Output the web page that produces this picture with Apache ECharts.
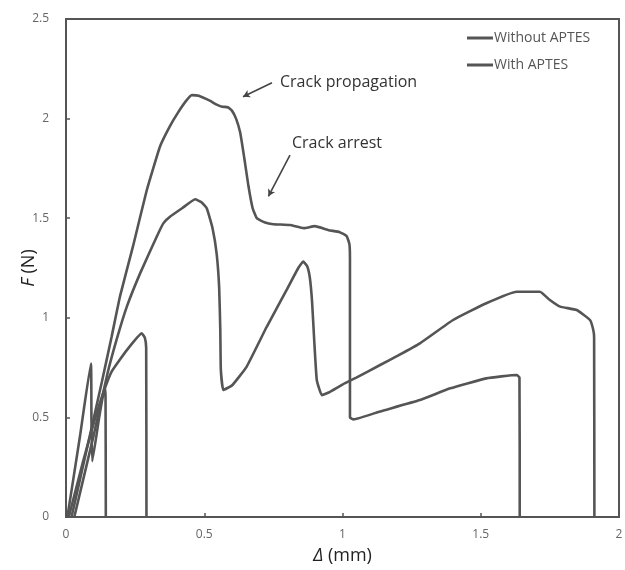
<!DOCTYPE html>
<html>
<head>
<meta charset="utf-8">
<script src="https://cdn.jsdelivr.net/npm/echarts@6/dist/echarts.min.js"></script>
<style>
  html, body { margin: 0; padding: 0; background: #fff; }
  #main { width: 625px; height: 570px; }
</style>
</head>
<body>
<div id="main"></div>
<script>
// specimen curves, displacement (mm) vs force (N)
var curveAx = [0.02, 0.08, 0.13, 0.165, 0.195, 0.242, 0.292, 0.34, 0.375, 0.405, 0.435, 0.455, 0.48, 0.52, 0.545, 0.565, 0.585, 0.6, 0.615, 0.63, 0.645, 0.66, 0.675, 0.69, 0.72, 0.75, 0.81, 0.86, 0.9, 0.95, 0.99, 1.015, 1.025, 1.027, 1.027, 1.04, 1.136, 1.28, 1.39, 1.52, 1.63, 1.64, 1.641];
var curveAy = [0, 0.37, 0.68, 0.905, 1.106, 1.357, 1.64, 1.86, 1.96, 2.03, 2.09, 2.118, 2.115, 2.09, 2.07, 2.06, 2.057, 2.04, 2.0, 1.93, 1.8, 1.66, 1.55, 1.5, 1.478, 1.47, 1.466, 1.45, 1.46, 1.44, 1.43, 1.41, 1.37, 1.3, 0.5, 0.49, 0.53, 0.587, 0.646, 0.696, 0.713, 0.70, 0];

var curveBx = [0.03, 0.1, 0.15, 0.183, 0.22, 0.268, 0.328, 0.352, 0.376, 0.42, 0.467, 0.49, 0.509, 0.53, 0.545, 0.554, 0.558, 0.56, 0.569, 0.6, 0.653, 0.726, 0.798, 0.84, 0.858, 0.872, 0.882, 0.89, 0.898, 0.907, 0.925, 0.95, 1.0, 1.05, 1.136, 1.2, 1.28, 1.4, 1.52, 1.63, 1.714, 1.75, 1.787, 1.847, 1.895, 1.907, 1.91, 1.911];
var curveBy = [0, 0.41, 0.72, 0.89, 1.056, 1.223, 1.407, 1.474, 1.507, 1.55, 1.595, 1.58, 1.55, 1.45, 1.32, 1.15, 0.94, 0.74, 0.638, 0.66, 0.754, 0.955, 1.14, 1.25, 1.282, 1.26, 1.2, 1.08, 0.88, 0.688, 0.612, 0.625, 0.665, 0.70, 0.763, 0.81, 0.872, 0.989, 1.073, 1.131, 1.131, 1.089, 1.056, 1.039, 0.989, 0.939, 0.9, 0];

var curveCx = [0.005, 0.05, 0.09, 0.092, 0.095, 0.12, 0.14, 0.143, 0.144];
var curveCy = [0, 0.4, 0.77, 0.5, 0.28, 0.5, 0.65, 0.6, 0];

var curveDx = [0.01, 0.06, 0.1, 0.134, 0.165, 0.22, 0.274, 0.285, 0.29, 0.291];
var curveDy = [0, 0.27, 0.47, 0.62, 0.73, 0.838, 0.922, 0.9, 0.85, 0];

var legendNames = ['Without APTES', 'With APTES'];

function pairs(xs, ys) {
    return xs.map(function (x, i) { return [x, ys[i]]; });
}

var lineColor = '#555';
var lineW = 2.6;

function curve(name, xs, ys) {
    return {
        name: name,
        type: 'line',
        data: pairs(xs, ys),
        showSymbol: false,
        smooth: 0.12,
        lineStyle: { color: lineColor, width: lineW },
        itemStyle: { color: lineColor },
        z: 3
    };
}

var myChart = echarts.init(document.getElementById('main'));

var arrows = {
    type: 'line',
    data: [],
    silent: true,
    markLine: {
        silent: true,
        symbol: ['none', 'arrow'],
        symbolSize: [6, 7],
        label: { show: false },
        lineStyle: { color: '#444', width: 1.6, type: 'solid', curveness: -0.3 },
        data: [
            [{ coord: [0.745, 2.18] }, { coord: [0.64, 2.11] }],
            [{ coord: [0.81, 1.817] }, { coord: [0.732, 1.61] }]
        ]
    }
};

var option = {
    animation: false,
    backgroundColor: '#fff',
    grid: {
        left: 66, right: 6, top: 19, bottom: 53,
        outerBoundsMode: 'none',
        show: true,
        borderColor: '#555',
        borderWidth: 2
    },
    legend: {
        data: legendNames,
        orient: 'vertical',
        left: 462,
        top: 26,
        itemGap: 13,
        itemWidth: 26,
        itemHeight: 3,
        icon: 'rect',
        textStyle: { color: '#555', fontSize: 14, fontFamily: 'Open Sans', padding: [0, 0, 0, -4] }
    },
    xAxis: {
        type: 'value',
        min: 0, max: 2, interval: 0.5,
        name: '{i|Δ} (mm)',
        nameLocation: 'middle',
        nameGap: 30,
        nameMoveOverlap: false,
        nameTextStyle: {
            fontSize: 18, color: '#222', fontFamily: 'Open Sans',
            rich: { i: { fontStyle: 'italic', fontSize: 18, color: '#222', fontFamily: 'Open Sans' } }
        },
        axisLine: { show: true, lineStyle: { color: '#555', width: 2 } },
        axisTick: { show: true, inside: true, length: 4, lineStyle: { color: '#555', width: 1.5 } },
        axisLabel: { color: '#666', fontSize: 12, margin: 12, fontFamily: 'Open Sans' },
        splitLine: { show: false }
    },
    yAxis: {
        type: 'value',
        min: 0, max: 2.5, interval: 0.5,
        name: '{i|F} (N)',
        nameLocation: 'middle',
        nameGap: 28,
        nameMoveOverlap: false,
        nameTextStyle: {
            fontSize: 18, color: '#222', fontFamily: 'Open Sans',
            rich: { i: { fontStyle: 'italic', fontSize: 18, color: '#222', fontFamily: 'Open Sans' } }
        },
        axisLine: { show: true, lineStyle: { color: '#555', width: 2 } },
        axisTick: { show: true, inside: true, length: 4, lineStyle: { color: '#555', width: 1.5 } },
        axisLabel: { color: '#666', fontSize: 12, margin: 17, fontFamily: 'Open Sans' },
        splitLine: { show: false }
    },
    graphic: [
        { type: 'text', left: 280, top: 74, style: { text: 'Crack propagation', fill: '#333', font: '16px "Open Sans"' } },
        { type: 'text', left: 292, top: 135, style: { text: 'Crack arrest', fill: '#333', font: '16px "Open Sans"' } }
    ],
    series: [
        curve(legendNames[0], curveAx, curveAy),
        curve(legendNames[1], curveBx, curveBy),
        curve(legendNames[0], curveCx, curveCy),
        curve(legendNames[1], curveDx, curveDy),
        arrows
    ]
};
myChart.setOption(option);
</script>
</body>
</html>
